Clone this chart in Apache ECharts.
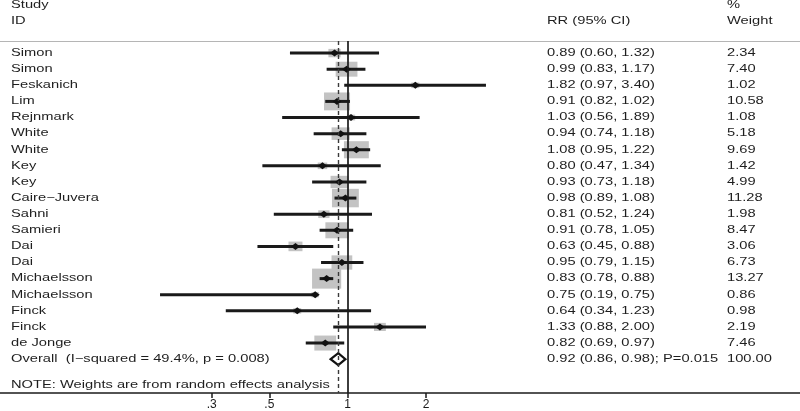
<!DOCTYPE html>
<html>
<head>
<meta charset="utf-8">
<script src="https://cdn.jsdelivr.net/npm/echarts@6/dist/echarts.min.js"></script>
<style>
html,body{margin:0;padding:0;background:#fff;}
#chart{width:800px;height:411px;}
</style>
</head>
<body>
<div id="chart"></div>
<script>
const studies = ['Simon','Simon','Feskanich','Lim','Rejnmark','White','White','Key','Key','Caire\u2212Juvera','Sahni','Samieri','Dai','Dai','Michaelsson','Michaelsson','Finck','Finck','de Jonge'];
const rr      = [0.89,0.99,1.82,0.91,1.03,0.94,1.08,0.80,0.93,0.98,0.81,0.91,0.63,0.95,0.83,0.75,0.64,1.33,0.82];
const ciLow   = [0.60,0.83,0.97,0.82,0.56,0.74,0.95,0.47,0.73,0.89,0.52,0.78,0.45,0.79,0.78,0.19,0.34,0.88,0.69];
const ciHigh  = [1.32,1.17,3.40,1.02,1.89,1.18,1.22,1.34,1.18,1.08,1.24,1.05,0.88,1.15,0.88,0.75,1.23,2.00,0.97];
const weights = [2.34,7.40,1.02,10.58,1.08,5.18,9.69,1.42,4.99,11.28,1.98,8.47,3.06,6.73,13.27,0.86,0.98,2.19,7.46];

const overallRR = 0.92;
const overallLow = 0.86;
const overallHigh = 0.98;
const overallLabel = 'Overall  (I\u2212squared = 49.4%, p = 0.008)';
const overallText = '0.92 (0.86, 0.98); P=0.015';
const overallWeight = '100.00';
const noteText = 'NOTE: Weights are from random effects analysis';

const tickValues = [0.3, 0.5, 1, 2];
const tickLabels = ['.3', '.5', '1', '2'];

const headerStudy = ['Study', 'ID'];
const headerRR = 'RR (95% CI)';
const headerWeight = ['%', 'Weight'];

const FONT = 'Liberation Sans, Arial, Helvetica, sans-serif';
const SX = 1.47;

const chart = echarts.init(document.getElementById('chart'));

const studyData = studies.map((s, i) => [Math.log(rr[i]), i + 1, Math.log(ciLow[i]), Math.log(ciHigh[i]), weights[i]]);
const overallRow = studies.length + 1;

function fmtTick(v) {
  for (let i = 0; i < tickValues.length; i++) {
    if (Math.abs(Math.log(tickValues[i]) - v) < 1e-6) return tickLabels[i];
  }
  return '';
}

chart.setOption({
  animation: false,
  textStyle: { fontFamily: FONT },
  grid: { left: 0, right: 0, top: 41, bottom: 18 },
  xAxis: [{
    type: 'value',
    min: -3.077, max: 4.003,
    position: 'bottom',
    splitLine: { show: false },
    axisLine: { show: true, onZero: false, lineStyle: { color: '#1a1a1a', width: 1.5 } },
    axisTick: { show: true, length: 5, lineStyle: { color: '#1a1a1a', width: 1.5 }, customValues: tickValues.map(Math.log) },
    axisLabel: { show: true, fontSize: 12, color: '#1a1a1a', fontFamily: FONT, margin: 6, customValues: tickValues.map(Math.log), formatter: fmtTick }
  }, {
    type: 'value',
    min: -3.077, max: 4.003,
    position: 'top',
    splitLine: { show: false },
    axisLine: { show: true, onZero: false, lineStyle: { color: '#b5b5b5', width: 1 } },
    axisTick: { show: false },
    axisLabel: { show: false }
  }],
  yAxis: {
    type: 'value', inverse: true, min: 0.25, max: 22.1,
    show: false, splitLine: { show: false }
  },
  series: [
    {
      type: 'line', data: [], z: 1, silent: true,
      markLine: {
        symbol: 'none', silent: true, label: { show: false },
        data: [
          { xAxis: 0, lineStyle: { type: 'solid', color: '#1a1a1a', width: 1.7 } },
          { xAxis: Math.log(overallRR), lineStyle: { type: [4, 3], color: '#3a3a3a', width: 1.4 } }
        ]
      }
    },
    {
      type: 'custom', z: 3, clip: false,
      data: studyData,
      renderItem: function (params, api) {
        const c = api.coord([api.value(0), api.value(1)]);
        const l = api.coord([api.value(2), api.value(1)]);
        const h = api.coord([api.value(3), api.value(1)]);
        const w = api.value(4);
        const bw = 8 * Math.sqrt(w), bh = 5.5 * Math.sqrt(w);
        return {
          type: 'group',
          children: [
            { type: 'rect', shape: { x: c[0] - bw / 2, y: c[1] - bh / 2, width: bw, height: bh }, style: { fill: '#c3c3c3' } },
            { type: 'line', shape: { x1: l[0], y1: l[1], x2: h[0], y2: h[1] }, style: { stroke: '#1a1a1a', lineWidth: 3 } },
            { type: 'polygon', shape: { points: [[c[0] - 4.5, c[1]], [c[0], c[1] - 3.5], [c[0] + 4.5, c[1]], [c[0], c[1] + 3.5]] }, style: { fill: '#111' } }
          ]
        };
      }
    },
    {
      type: 'custom', z: 4, clip: false,
      data: [[Math.log(overallRR), overallRow, Math.log(overallLow), Math.log(overallHigh)]],
      renderItem: function (params, api) {
        const c = api.coord([api.value(0), api.value(1)]);
        const l = api.coord([api.value(2), api.value(1)]);
        const h = api.coord([api.value(3), api.value(1)]);
        return {
          type: 'polygon',
          shape: { points: [[l[0], l[1]], [c[0], c[1] - 6], [h[0], h[1]], [c[0], c[1] + 6]] },
          style: { fill: '#fff', stroke: '#111', lineWidth: 2.2, lineJoin: 'miter' }
        };
      }
    }
  ]
});

function rowY(r) {
  return chart.convertToPixel({ xAxisIndex: 0, yAxisIndex: 0 }, [0, r])[1];
}
function txt(text, x, r) {
  return {
    type: 'text', x: x, y: rowY(r), scaleX: SX, scaleY: 1.04, silent: true, z: 10,
    style: { text: text, fontSize: 10, fontFamily: FONT, fill: '#1e1e1e', align: 'left', verticalAlign: 'middle' }
  };
}

const COL_NAME = 11, COL_RR = 547, COL_W = 727;
const g = [];
g.push(txt(headerStudy[0], COL_NAME, -2));
g.push(txt(headerStudy[1], COL_NAME, -1));
g.push(txt(headerRR, COL_RR, -1));
g.push(txt(headerWeight[0], COL_W, -2));
g.push(txt(headerWeight[1], COL_W, -1));
studies.forEach((s, i) => {
  g.push(txt(s, COL_NAME, i + 1));
  g.push(txt(rr[i].toFixed(2) + ' (' + ciLow[i].toFixed(2) + ', ' + ciHigh[i].toFixed(2) + ')', COL_RR, i + 1));
  g.push(txt(weights[i].toFixed(2), COL_W, i + 1));
});
g.push(txt(overallLabel, COL_NAME, overallRow));
g.push(txt(overallText, COL_RR, overallRow));
g.push(txt(overallWeight, COL_W, overallRow));
g.push(txt(noteText, COL_NAME, 21.6));

chart.setOption({ graphic: g });
</script>
</body>
</html>
